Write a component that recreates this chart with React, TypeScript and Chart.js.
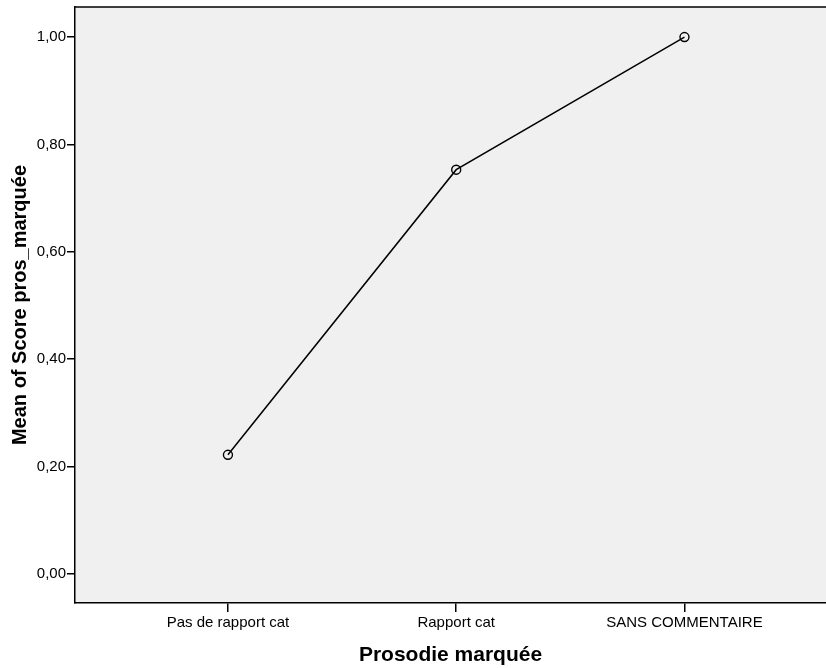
import React, { useEffect, useRef } from "react";
import { Chart, registerables } from "chart.js";

Chart.register(...registerables);

const categories = ["Pas de rapport cat", "Rapport cat", "SANS COMMENTAIRE"];
const means = [0.222, 0.753, 1.0];
const yTicks = [0, 0.2, 0.4, 0.6, 0.8, 1.0];
const xTitle = "Prosodie marquée";
const yTitle = "Mean of Score pros_marquée";

const bgPlugin = {
  id: "plotBg",
  beforeDraw(chart: any) {
    const { ctx, chartArea } = chart;
    if (!chartArea) return;
    ctx.save();
    ctx.fillStyle = "#f0f0f0";
    ctx.fillRect(chartArea.left, chartArea.top, chartArea.right - chartArea.left, chartArea.bottom - chartArea.top);
    ctx.restore();
  },
  afterDraw(chart: any) {
    const { ctx, chartArea } = chart;
    ctx.save();
    ctx.strokeStyle = "#000";
    ctx.lineWidth = 1.5;
    ctx.beginPath();
    ctx.moveTo(chartArea.left, chartArea.top);
    ctx.lineTo(chartArea.right, chartArea.top);
    ctx.stroke();
    ctx.restore();
  },
};

export default function App() {
  const ref = useRef<HTMLCanvasElement>(null);
  useEffect(() => {
    const font = "'Liberation Sans', Arial, sans-serif";
    const chart = new Chart(ref.current!, {
      type: "line",
      data: {
        datasets: [
          {
            data: means.map((v, i) => ({ x: i, y: v })),
            borderColor: "#000",
            borderWidth: 1.5,
            pointRadius: 4.5,
            pointBorderWidth: 1.4,
            pointBorderColor: "#000",
            pointBackgroundColor: "rgba(0,0,0,0)",
            tension: 0,
          },
        ],
      },
      options: {
        animation: false,
        responsive: false,
        layout: { autoPadding: false, padding: { top: 7, right: 0, left: 0, bottom: 0 } },
        plugins: { legend: { display: false }, tooltip: { enabled: false } },
        scales: {
          x: {
            type: "linear",
            min: -0.67,
            max: 2.62,
            afterBuildTicks: (s: any) => {
              s.ticks = categories.map((_, i) => ({ value: i }));
            },
            afterFit: (s: any) => {
              s.height = 65;
              s.paddingLeft = 0;
              s.paddingRight = 0;
            },
            ticks: {
              callback: (v: any) => categories[v as number] ?? "",
              color: "#000",
              font: { family: font, size: 15 },
              padding: 2,
              maxRotation: 0,
              autoSkip: false,
            },
            grid: { drawOnChartArea: false, drawTicks: true, tickLength: 9, color: "#000", lineWidth: 1.5 },
            border: { display: true, color: "#000", width: 1.5 },
            title: {
              display: true,
              text: xTitle,
              color: "#000",
              font: { family: font, size: 21, weight: "bold" },
              padding: { top: 4, bottom: 0 },
            },
          },
          y: {
            type: "linear",
            min: -0.054,
            max: 1.056,
            afterBuildTicks: (s: any) => {
              s.ticks = yTicks.map((v) => ({ value: v }));
            },
            afterFit: (s: any) => {
              s.width = 75;
              s.paddingTop = 0;
              s.paddingBottom = 0;
            },
            ticks: {
              callback: (v: any) => Number(v).toFixed(2).replace(".", ","),
              color: "#000",
              font: { family: font, size: 15 },
              padding: 1,
            },
            grid: { drawOnChartArea: false, drawTicks: true, tickLength: 8, color: "#000", lineWidth: 1.5 },
            border: { display: true, color: "#000", width: 1.5 },
            title: {
              display: true,
              text: yTitle,
              color: "#000",
              font: { family: font, size: 20, weight: "bold" },
              padding: { top: 8, bottom: 0 },
            },
          },
        },
      },
      plugins: [bgPlugin],
    } as any);
    return () => chart.destroy();
  }, []);
  return (
    <div style={{ position: "absolute", left: 0, top: 0, width: 826, height: 668, background: "#fff" }}>
      <canvas ref={ref} width={826} height={668} style={{ display: "block" }} />
    </div>
  );
}
